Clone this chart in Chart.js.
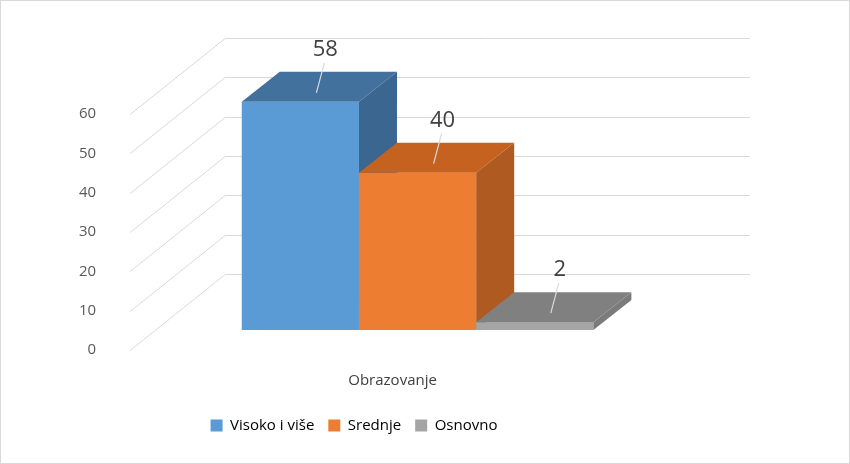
<!DOCTYPE html>
<html><head><meta charset="utf-8">
<script src="https://cdn.jsdelivr.net/npm/chart.js@4"></script>
<style>body{margin:0;background:#fff}#w{position:absolute;left:0;top:0;width:848px;height:462px;border:1px solid #d9d9d9}</style>
</head><body><div id="w"><canvas id="c" width="848" height="462"></canvas></div>
<script>
const categories = ["Obrazovanje"];
const seriesNames = ["Visoko i više", "Srednje", "Osnovno"];
const seriesValues = [[58], [40], [2]];
const yTicks = [0, 10, 20, 30, 40, 50, 60];
const colors = [
  {front:"#5b9bd5", top:"#41719c", side:"#3a6690"},
  {front:"#ed7d31", top:"#c5621f", side:"#ae5a21"},
  {front:"#a5a5a5", top:"#808080", side:"#7b7b7b"}
];
const BACK = {dx:95, dy:-76}, FRONT = {dx:25, dy:-20}, DEPTH = {dx:38, dy:-30};
const plugin3d = {
  id:"p3d",
  beforeDatasetsDraw(chart){
    const {ctx, chartArea:a, scales:{y}} = chart;
    ctx.save(); ctx.strokeStyle="#d9d9d9"; ctx.lineWidth=1;
    yTicks.forEach(t=>{
      const py = Math.round(y.getPixelForValue(t))+0.5;
      ctx.beginPath(); ctx.moveTo(a.left, py); ctx.lineTo(a.left+BACK.dx, py+BACK.dy);
      ctx.lineTo(a.right+BACK.dx, py+BACK.dy); ctx.stroke();
    });
    ctx.restore();
  },
  afterDatasetsDraw(chart){
    const {ctx} = chart;
    ctx.save();
    chart.data.datasets.forEach((ds,i)=>{
      const el = chart.getDatasetMeta(i).data[0];
      const c = colors[i];
      const l = el.x - el.width/2 + FRONT.dx, r = el.x + el.width/2 + FRONT.dx;
      const t = el.y + FRONT.dy, b = el.base + FRONT.dy;
      ctx.fillStyle=c.front; ctx.fillRect(l,t,r-l,b-t);
      ctx.fillStyle=c.top; ctx.beginPath();
      ctx.moveTo(l,t); ctx.lineTo(l+DEPTH.dx,t+DEPTH.dy); ctx.lineTo(r+DEPTH.dx,t+DEPTH.dy); ctx.lineTo(r,t); ctx.closePath(); ctx.fill();
      ctx.fillStyle=c.side; ctx.beginPath();
      ctx.moveTo(r,t); ctx.lineTo(r+DEPTH.dx,t+DEPTH.dy); ctx.lineTo(r+DEPTH.dx,b+DEPTH.dy); ctx.lineTo(r,b); ctx.closePath(); ctx.fill();
      const cx = (l+r)/2 + DEPTH.dx/2, cy = t + DEPTH.dy/2;
      ctx.strokeStyle="#d9d9d9"; ctx.lineWidth=1.2;
      ctx.beginPath(); ctx.moveTo(cx-3,cy+6); ctx.lineTo(cx+5,cy-24); ctx.stroke();
      ctx.fillStyle="#404040"; ctx.font="22px 'Open Sans', sans-serif"; ctx.textAlign="center"; ctx.textBaseline="bottom";
      ctx.fillText(ds.data[0], cx+6, cy-26);
    });
    ctx.restore();
  }
};
new Chart(document.getElementById("c"),{
  type:"bar",
  data:{labels:categories, datasets:seriesNames.map((n,i)=>({label:n,data:seriesValues[i],backgroundColor:"rgba(0,0,0,0)"}))},
  plugins:[plugin3d],
  options:{
    responsive:false, animation:false,
    layout:{padding:{top:113,left:52,right:194,bottom:20}},
    datasets:{bar:{barPercentage:1,categoryPercentage:0.67}},
    scales:{
      y:{min:0,max:60,ticks:{stepSize:10,color:"#595959",font:{size:15,family:"'Open Sans'"},padding:26},grid:{display:false},border:{display:false}},
      x:{ticks:{color:"#404040",font:{size:15,family:"'Open Sans'"},padding:14},grid:{display:false},border:{display:false}}
    },
    plugins:{
      tooltip:{enabled:false},
      legend:{position:"bottom",labels:{color:"#404040",font:{size:15,family:"'Open Sans'"},boxWidth:12,boxHeight:12,padding:14,
        generateLabels:(ch)=>ch.data.datasets.map((d,i)=>({text:d.label,fillStyle:colors[i].front,strokeStyle:colors[i].front,lineWidth:0,datasetIndex:i}))}}
    }
  }
});
</script></body></html>
